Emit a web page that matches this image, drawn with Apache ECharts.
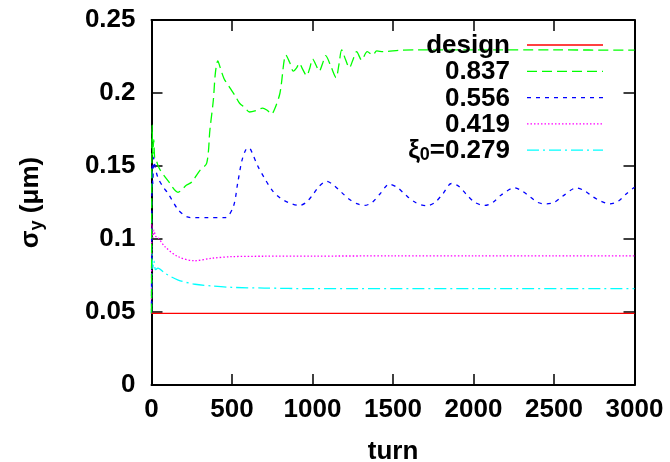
<!DOCTYPE html>
<html><head><meta charset="utf-8">
<script src="https://cdn.jsdelivr.net/npm/echarts@6/dist/echarts.min.js"></script>
<style>html,body{margin:0;padding:0;background:#fff}#c{width:670px;height:462px}</style>
</head><body><div id="c"></div>
<script>
const seriesNames = ['design', '0.837', '0.556', '0.419', 'ξ0=0.279'];
const xTickMin = 0, xTickMax = 3000, xTickStep = 500;
const yTickMin = 0, yTickMax = 0.25, yTickStep = 0.05;

const designTurns = [0, 3000];
const designValues = [0.049, 0.049];

const g837Turns = [0, 4, 8, 14, 20, 28, 50, 102, 165, 218, 250, 301, 343, 363, 384, 397, 412, 425, 450, 484, 520, 547, 580, 609, 650, 690, 720, 745, 765, 798, 835, 858, 881, 900, 918, 940, 964, 983, 1001, 1022, 1042, 1062, 1082, 1115, 1146, 1165, 1181, 1205, 1229, 1252, 1274, 1305, 1340, 1374, 1399, 1440, 1543, 1647, 2000, 2500, 3000];
const g837Values = [0.049, 0.178, 0.158, 0.168, 0.155, 0.154, 0.148, 0.140, 0.132, 0.137, 0.139, 0.147, 0.152, 0.175, 0.195, 0.214, 0.222, 0.218, 0.210, 0.204, 0.198, 0.193, 0.190, 0.187, 0.188, 0.1897, 0.188, 0.1856, 0.189, 0.200, 0.226, 0.221, 0.215, 0.217, 0.2203, 0.216, 0.2119, 0.217, 0.2233, 0.219, 0.215, 0.220, 0.2256, 0.218, 0.2105, 0.220, 0.2295, 0.223, 0.2173, 0.223, 0.2283, 0.2226, 0.2283, 0.226, 0.2288, 0.2283, 0.2293, 0.2295, 0.2295, 0.2295, 0.2293];

const b556Turns = [0, 4, 8, 14, 22, 40, 70, 104, 166, 218, 270, 350, 457, 508, 535, 560, 585, 606, 625, 660, 700, 752, 800, 850, 919, 960, 1000, 1040, 1087, 1130, 1180, 1230, 1280, 1323, 1370, 1420, 1478, 1530, 1580, 1640, 1708, 1760, 1810, 1863, 1910, 1960, 2010, 2068, 2120, 2170, 2255, 2300, 2350, 2400, 2453, 2500, 2550, 2640, 2690, 2740, 2790, 2845, 2900, 2950, 3000];
const b556Values = [0.049, 0.150, 0.138, 0.156, 0.1495, 0.142, 0.136, 0.131, 0.120, 0.1153, 0.1146, 0.1146, 0.1146, 0.1221, 0.138, 0.153, 0.161, 0.1625, 0.159, 0.150, 0.142, 0.133, 0.128, 0.125, 0.123, 0.125, 0.130, 0.136, 0.1395, 0.137, 0.132, 0.127, 0.124, 0.123, 0.125, 0.131, 0.1376, 0.135, 0.130, 0.125, 0.1228, 0.125, 0.131, 0.138, 0.136, 0.130, 0.125, 0.123, 0.125, 0.130, 0.135, 0.133, 0.129, 0.125, 0.124, 0.125, 0.129, 0.135, 0.133, 0.129, 0.126, 0.124, 0.126, 0.131, 0.1355];

const m419Turns = [0, 3, 8, 15, 25, 40, 84, 166, 270, 374, 498, 700, 1000, 1500, 2000, 2500, 3000];
const m419Values = [0.049, 0.110, 0.101, 0.106, 0.102, 0.101, 0.0947, 0.0879, 0.0851, 0.0868, 0.0879, 0.0882, 0.0883, 0.0884, 0.0884, 0.0884, 0.0884];

const c279Turns = [0, 3, 8, 15, 25, 40, 84, 166, 270, 380, 498, 700, 1000, 2000, 3000];
const c279Values = [0.049, 0.090, 0.080, 0.085, 0.079, 0.080, 0.0765, 0.0719, 0.069, 0.0678, 0.0669, 0.0664, 0.066, 0.066, 0.066];

const seriesTurns = [designTurns, g837Turns, b556Turns, m419Turns, c279Turns];
const seriesValues = [designValues, g837Values, b556Values, m419Values, c279Values];
const colors = ['#ff0000', '#00ff00', '#0000ff', '#ff00ff', '#00ffff'];
const dashes = [null, [10, 5], [4, 5], [1.5, 2], [12, 4, 2, 4]];

const FONT = 'Liberation Sans';
const FS = 26;
const chart = echarts.init(document.getElementById('c'), null, {renderer: 'canvas'});

function pairs(t, v) { return t.map((x, i) => [x, v[i]]); }

const axisLineStyle = {color: '#000', width: 2};
const tickStyle = {color: '#000', width: 1.5};
const labelFont = {fontFamily: FONT, fontWeight: 'bold', fontSize: FS, color: '#000'};

// legend drawn gnuplot-style: right-aligned names followed by line samples
const legendTextRight = 510, legendLineX1 = 527, legendLineX2 = 603, legendTop = 45, legendStep = 26.3;
const legendGraphics = [];
seriesNames.forEach((n, i) => {
  const y = legendTop + i * legendStep;
  let txt = '{g|' + n + '}';
  if (n.indexOf('ξ0') === 0) txt = '{g|ξ}{s|0}{g|' + n.slice(2) + '}';
  legendGraphics.push({
    type: 'text', x: legendTextRight, y: y + 1, z: 100,
    style: {text: txt, align: 'right', verticalAlign: 'middle',
      rich: {
        g: {fontFamily: FONT, fontWeight: 'bold', fontSize: FS, fill: '#000', lineHeight: 26, verticalAlign: 'middle'},
        s: {fontFamily: FONT, fontWeight: 'bold', fontSize: 18, fill: '#000', lineHeight: 18, verticalAlign: 'bottom'}
      }}
  });
  legendGraphics.push({
    type: 'line', z: 100,
    shape: {x1: legendLineX1, y1: y, x2: legendLineX2, y2: y},
    style: {stroke: colors[i], lineWidth: 1.3, lineDash: dashes[i]}
  });
});

const option = {
  backgroundColor: '#fff',
  animation: false,
  grid: {left: 151.5, right: 35.5, top: 20, bottom: 77, outerBoundsMode: 'none', containLabel: false},
  xAxis: [
    {type: 'value', min: xTickMin, max: xTickMax, interval: xTickStep, position: 'bottom',
     axisLine: {onZero: false, lineStyle: axisLineStyle}, axisTick: {inside: true, length: 11, lineStyle: tickStyle},
     axisLabel: Object.assign({margin: 12, formatter: v => String(v)}, labelFont), splitLine: {show: false},
     name: 'turn', nameLocation: 'middle', nameGap: 54, nameTextStyle: labelFont},
    {type: 'value', min: xTickMin, max: xTickMax, interval: xTickStep, position: 'top',
     axisLine: {onZero: false, lineStyle: axisLineStyle}, axisTick: {inside: true, length: 11, lineStyle: tickStyle},
     axisLabel: {show: false}, splitLine: {show: false}}
  ],
  yAxis: [
    {type: 'value', min: yTickMin, max: yTickMax, interval: yTickStep, position: 'left',
     axisLine: {show: true, onZero: false, lineStyle: axisLineStyle}, axisTick: {show: true, inside: true, length: 11, lineStyle: tickStyle},
     axisLabel: Object.assign({margin: 16, formatter: v => String(v)}, labelFont), splitLine: {show: false},
     name: '{a|σ}{b|y}{a| (μm)}', nameLocation: 'middle', nameGap: 105, nameRotate: 90,
     nameTextStyle: {rich: {
       a: {fontFamily: FONT, fontWeight: 'bold', fontSize: FS, color: '#000'},
       b: {fontFamily: FONT, fontWeight: 'bold', fontSize: 18, color: '#000', padding: [14, 0, 0, 0]}
     }}},
    {type: 'value', min: yTickMin, max: yTickMax, interval: yTickStep, position: 'right',
     axisLine: {show: true, onZero: false, lineStyle: axisLineStyle}, axisTick: {show: true, inside: true, length: 11, lineStyle: tickStyle},
     axisLabel: {show: false}, splitLine: {show: false}}
  ],
  graphic: legendGraphics,
  series: seriesNames.map((n, i) => ({
    name: n, type: 'line', xAxisIndex: 0, yAxisIndex: 0,
    data: pairs(seriesTurns[i], seriesValues[i]),
    showSymbol: false, symbol: 'none', smooth: i === 0 ? false : 0.3,
    lineStyle: {color: colors[i], width: 1.3, type: dashes[i] || 'solid'},
    z: 10 - i
  }))
};
chart.setOption(option);
</script></body></html>
